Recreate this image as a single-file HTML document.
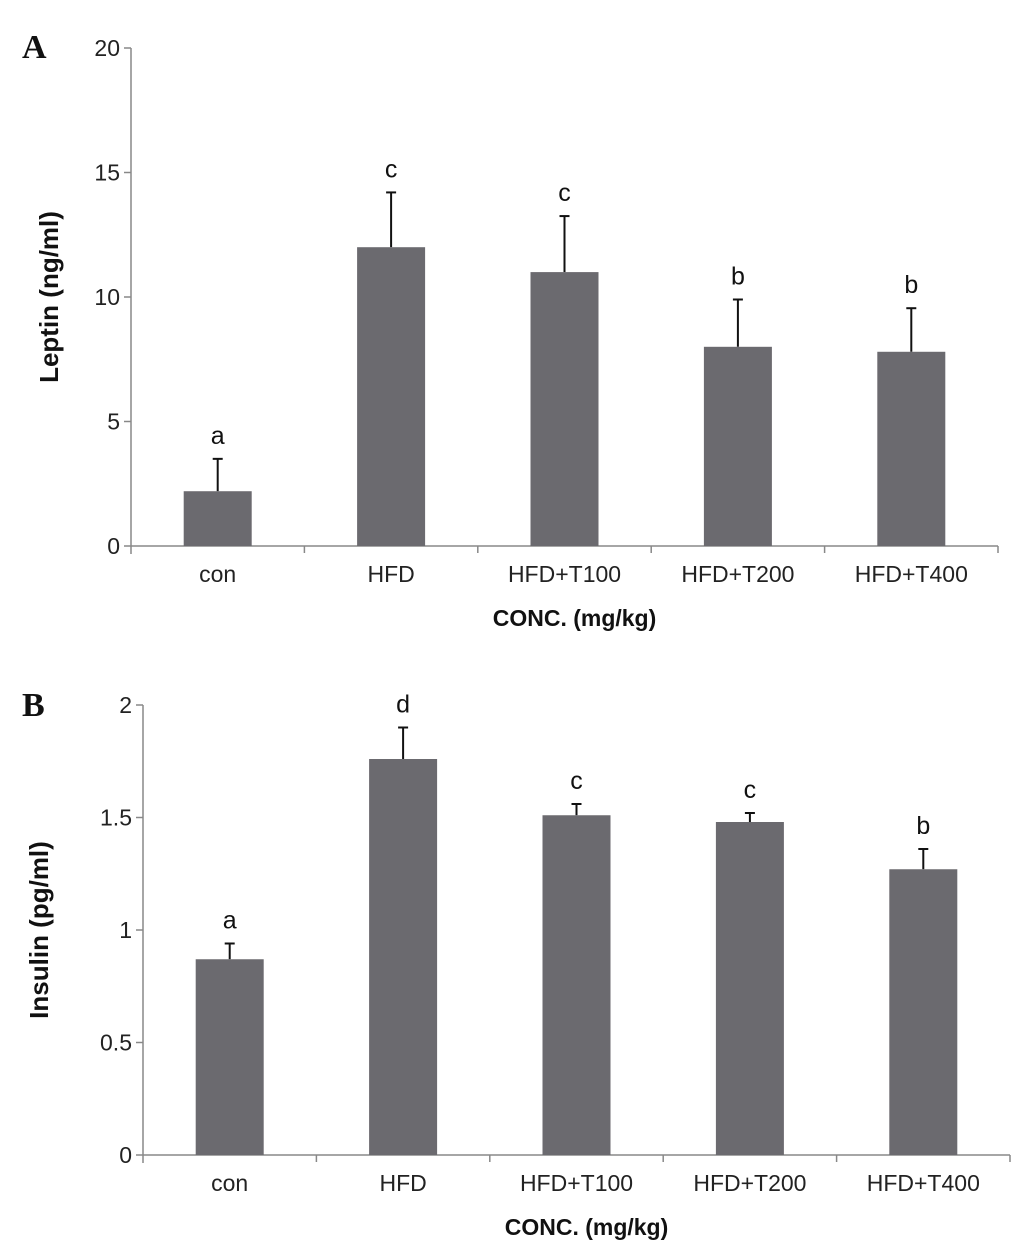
<!DOCTYPE html>
<html><head><meta charset="utf-8"><style>
html,body{margin:0;padding:0;background:#fff;}
svg{display:block;font-family:"Liberation Sans",Arial,sans-serif;}
</style></head><body>
<svg id="chart" width="1035" height="1250" xmlns="http://www.w3.org/2000/svg"></svg>
<script>
const categories = ["con","HFD","HFD+T100","HFD+T200","HFD+T400"];
const leptinValues = [2.2, 12.0, 11.0, 8.0, 7.8];
const leptinErrors = [1.3, 2.2, 2.25, 1.9, 1.75];
const leptinLetters = ["a","c","c","b","b"];
const leptinTicks = [0,5,10,15,20];
const insulinValues = [0.87, 1.76, 1.51, 1.48, 1.27];
const insulinErrors = [0.07, 0.14, 0.05, 0.04, 0.09];
const insulinLetters = ["a","d","c","c","b"];
const insulinTicks = [0,0.5,1,1.5,2];
const insulinTickLabels = ["0","0.5","1","1.5","2"];

const NS="http://www.w3.org/2000/svg";
const svg=document.getElementById('chart');
function mk(tag,attrs,parent){const e=document.createElementNS(NS,tag);for(const k in attrs)e.setAttribute(k,attrs[k]);(parent||svg).appendChild(e);return e;}

function panel(p){
  const g=mk('g',{});
  
  
  const y=v=>p.y0-(v/p.max)*(p.y0-p.yTop);
  const band=(p.x1-p.x0)/categories.length;
  const xc=i=>p.x0+band*(i+0.5);
  const L=mk('text',{x:p.letterX,y:p.letterY,'font-family':'"Liberation Serif",serif','font-weight':'bold','font-size':34,fill:'#111'},g);
  L.textContent=p.letter;
  
  
  const ya=mk('line',{x1:p.x0,y1:p.yTop,x2:p.x0,y2:p.y0+8,stroke:'#888','stroke-width':1.5},g);
  
  
  const xa=mk('line',{x1:p.x0,y1:p.y0,x2:p.x1,y2:p.y0,stroke:'#888','stroke-width':1.5},g);
  
  
  p.ticks.forEach((t,i)=>{
    mk('line',{x1:p.x0-7,y1:y(t),x2:p.x0,y2:y(t),stroke:'#888','stroke-width':1.5},g);
    const tx=mk('text',{x:p.x0-11,y:y(t)+8,'text-anchor':'end','font-size':23,fill:'#222'},g);
    tx.textContent=p.tickLabels[i];
    
    
  });
  for(let i=1;i<=categories.length;i++){
    mk('line',{x1:p.x0+band*i,y1:p.y0,x2:p.x0+band*i,y2:p.y0+7,stroke:'#888','stroke-width':1.5},g);
  }
  categories.forEach((c,i)=>{
    const cx=xc(i);
    const top=y(p.values[i]), etop=y(p.values[i]+p.errors[i]);
    const eb=mk('line',{x1:cx,y1:top,x2:cx,y2:etop,stroke:'#111','stroke-width':2},g);
    
    
    mk('line',{x1:cx-5,y1:etop,x2:cx+5,y2:etop,stroke:'#111','stroke-width':2},g);
    const r=mk('rect',{x:cx-34,y:top,width:68,height:p.y0-top,fill:'#6b6a6f'},g);
    
    
    const lt=mk('text',{x:cx,y:etop-15,'text-anchor':'middle','font-size':25,fill:'#111'},g);
    lt.textContent=p.letters[i];
    
    
    const cl=mk('text',{x:cx,y:p.y0+36,'text-anchor':'middle','font-size':23,fill:'#222'},g);
    cl.textContent=c;
    
    
  });
  const xt=mk('text',{x:(p.x0+p.x1)/2+10,y:p.y0+p.xTitleDy,'text-anchor':'middle','font-size':23,'font-weight':'bold',fill:'#111'},g);
  xt.textContent='CONC. (mg/kg)';
  
  
  const ymid=(p.yTop+p.y0)/2;
  const yt=mk('text',{x:p.yTitleX,y:ymid,'text-anchor':'middle','font-size':26,'font-weight':'bold',fill:'#111',transform:`rotate(-90 ${p.yTitleX} ${ymid})`},g);
  yt.textContent=p.yTitle;
  
  
}
panel({name:'leptin-chart',letter:'A',letterX:22,letterY:58,x0:131,x1:998,y0:546,yTop:48,max:20,ticks:leptinTicks,tickLabels:leptinTicks.map(String),values:leptinValues,errors:leptinErrors,letters:leptinLetters,yTitle:'Leptin (ng/ml)',yTitleX:58,xTitleDy:80});
panel({name:'insulin-chart',letter:'B',letterX:22,letterY:716,x0:143,x1:1010,y0:1155,yTop:705,max:2,ticks:insulinTicks,tickLabels:insulinTickLabels,values:insulinValues,errors:insulinErrors,letters:insulinLetters,yTitle:'Insulin (pg/ml)',yTitleX:48,xTitleDy:80});
</script>
</body></html>
